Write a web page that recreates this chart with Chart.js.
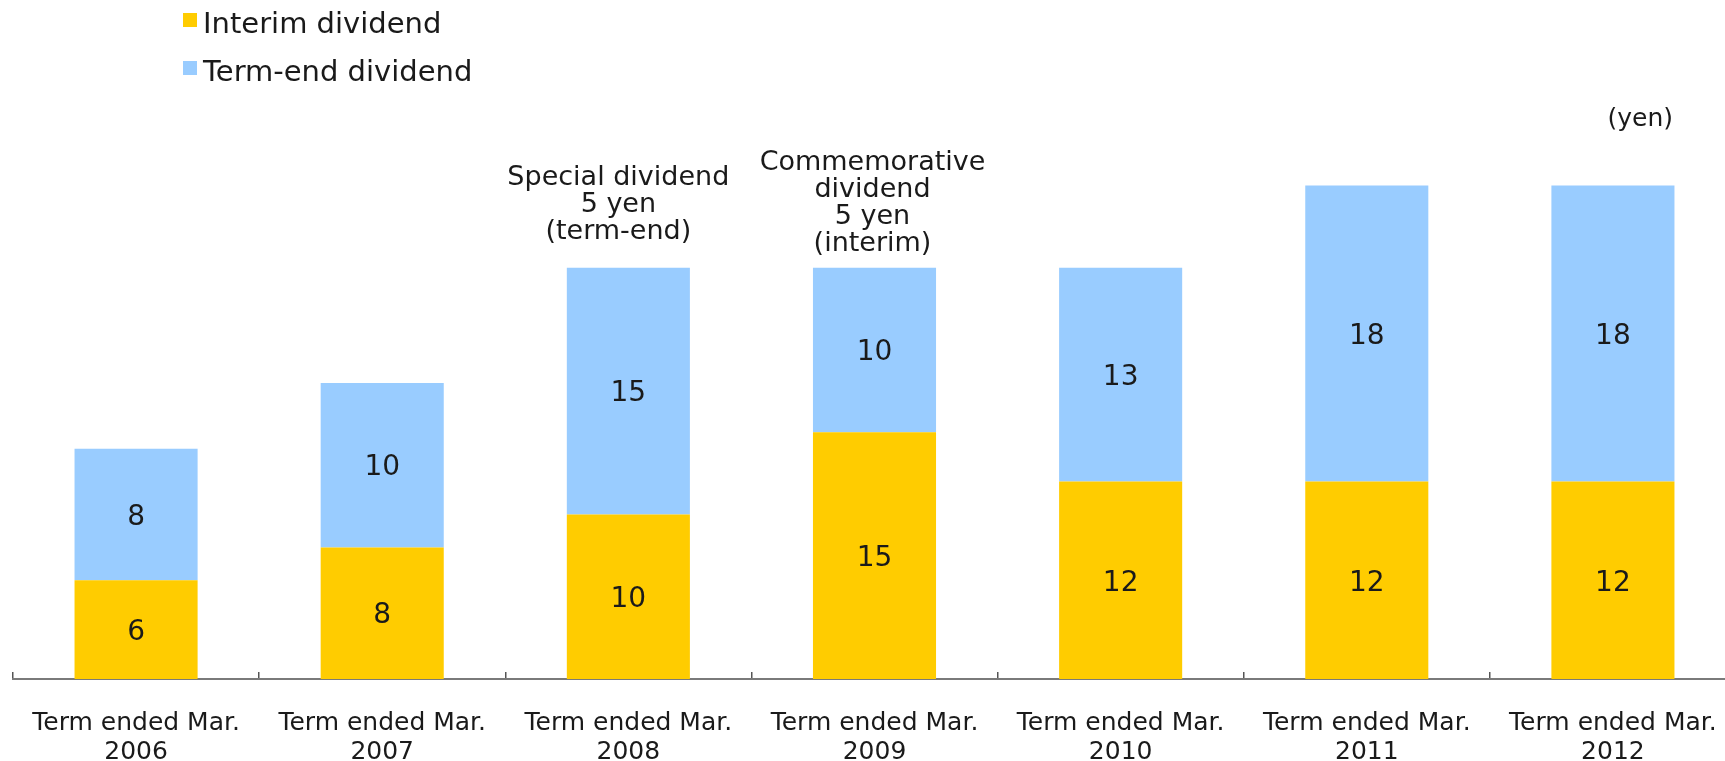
<!DOCTYPE html>
<html lang="en">
<head>
  <meta charset="UTF-8">
  <title>Dividends per share</title>
  <script src="https://cdn.jsdelivr.net/npm/chart.js@4.4.1/dist/chart.umd.min.js"></script>
  <style>
    html, body { margin: 0; padding: 0; background: #fff; overflow: hidden; }
    #wrap { position: relative; width: 1736px; height: 761px; }
    #legend { position: absolute; left: 183px; top: 0; font: 29px "DejaVu Sans", sans-serif; color: #1a1a1a; }
    #legend .item { position: absolute; left: 0; white-space: nowrap; line-height: 29px; }
    #legend .box { position: absolute; left: 0; width: 14px; height: 14px; }
    #legend .text { position: absolute; left: 20px; top: 0; }
    #unit { position: absolute; left: 1473px; top: 105px; width: 200px; text-align: right;
            font: 25px "DejaVu Sans", sans-serif; line-height: 25px; color: #1a1a1a; }
  </style>
</head>
<body>
  <div id="wrap">
    <canvas id="myChart" width="1736" height="761"></canvas>
    <div id="legend"></div>
    <div id="unit">(yen)</div>
  </div>

  <script>
  var categories = [
    ['Term ended Mar.', '2006'],
    ['Term ended Mar.', '2007'],
    ['Term ended Mar.', '2008'],
    ['Term ended Mar.', '2009'],
    ['Term ended Mar.', '2010'],
    ['Term ended Mar.', '2011'],
    ['Term ended Mar.', '2012']
  ];
  var interim = [6, 8, 10, 15, 12, 12, 12];
  var termEnd = [8, 10, 15, 10, 13, 18, 18];

  // notes written above some bars
  var noteIndex = [2, 3];
  var noteLines = [
    ['Special dividend', '5 yen', '(term-end)'],
    ['Commemorative', 'dividend', '5 yen', '(interim)']
  ];
  var noteStyle = [
    { dx: -10, gap: 29, lineHeight: 27 },
    { dx: -2, gap: 17, lineHeight: 27 }
  ];

  var textColor = '#1a1a1a';

  // numbers in the middle of each bar segment
  var valueLabels = {
    id: 'valueLabels',
    afterDatasetsDraw: function(chart) {
      var ctx = chart.ctx;
      ctx.save();
      ctx.font = '28px "DejaVu Sans"';
      ctx.fillStyle = textColor;
      ctx.textAlign = 'center';
      ctx.textBaseline = 'middle';
      chart.data.datasets.forEach(function(ds, di) {
        chart.getDatasetMeta(di).data.forEach(function(bar, i) {
          var p = bar.getProps(['x', 'y', 'base'], true);
          ctx.fillText(String(ds.data[i]), p.x, (p.y + p.base) / 2 + 3);
        });
      });
      ctx.restore();
    }
  };

  var barNotes = {
    id: 'barNotes',
    afterDatasetsDraw: function(chart) {
      var ctx = chart.ctx;
      var tops = chart.getDatasetMeta(chart.data.datasets.length - 1).data;
      ctx.save();
      ctx.font = '27px "DejaVu Sans"';
      ctx.fillStyle = textColor;
      ctx.textAlign = 'center';
      ctx.textBaseline = 'alphabetic';
      noteIndex.forEach(function(idx, n) {
        var bar = tops[idx];
        var st = noteStyle[n];
        var lines = noteLines[n];
        var y = bar.y - st.gap;
        for (var k = lines.length - 1; k >= 0; k--) {
          ctx.fillText(lines[k], bar.x + st.dx, y);
          y -= st.lineHeight;
        }
      });
      ctx.restore();
    }
  };

  var ctx = document.getElementById('myChart');
  var myChart = new Chart(ctx, {
    type: 'bar',
    data: {
      labels: categories,
      datasets: [{
        label: 'Interim dividend',
        data: interim,
        backgroundColor: '#FFCC00'
      }, {
        label: 'Term-end dividend',
        data: termEnd,
        backgroundColor: '#99CCFF'
      }]
    },
    options: {
      responsive: false,
      animation: false,
      layout: { padding: { left: 13, right: 0, top: 21, bottom: 0 } },
      datasets: { bar: { categoryPercentage: 0.5, barPercentage: 1 } },
      plugins: {
        legend: { display: false },
        tooltip: { enabled: false }
      },
      scales: {
        x: {
          stacked: true,
          offset: true,
          grid: {
            display: true,
            offset: true,
            drawOnChartArea: false,
            drawTicks: true,
            tickLength: -7,
            color: '#555',
            lineWidth: 1.5
          },
          border: { display: true, color: '#7a7a7a', width: 2 },
          ticks: {
            padding: 37,
            color: textColor,
            maxRotation: 0,
            autoSkip: false,
            font: { family: 'DejaVu Sans', size: 25, lineHeight: 1.15 }
          },
          afterFit: function(scale) {
            // labels fit inside their categories, no side padding needed
            scale.height = 82;
            scale.paddingLeft = 0;
            scale.paddingRight = 0;
          }
        },
        y: {
          stacked: true,
          display: false,
          min: 0,
          max: 40
        }
      }
    },
    plugins: [valueLabels, barNotes]
  });

  // legend built from the datasets
  var legendEl = document.getElementById('legend');
  var legendTops = [9, 57];
  myChart.data.datasets.forEach(function(ds, i) {
    var item = document.createElement('div');
    item.className = 'item';
    item.style.top = legendTops[i] + 'px';
    var box = document.createElement('span');
    box.className = 'box';
    box.style.background = ds.backgroundColor;
    box.style.top = '4px';
    var text = document.createElement('span');
    text.className = 'text';
    text.textContent = ds.label;
    item.appendChild(box);
    item.appendChild(text);
    legendEl.appendChild(item);
  });
  </script>
</body>
</html>
